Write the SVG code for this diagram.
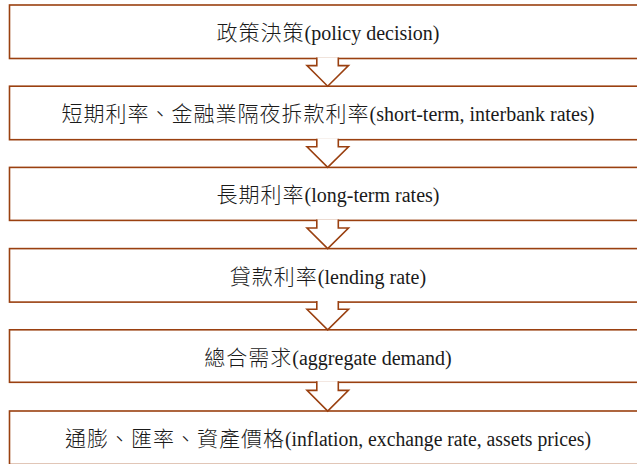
<svg xmlns="http://www.w3.org/2000/svg" width="637" height="464" viewBox="0 0 637 464">
<style>
.box{fill:#ffffff;stroke:#9a4010;stroke-width:1.6}
.arr{fill:#ffffff;stroke:#9a4010;stroke-width:1.6;stroke-linejoin:miter}
.lbl{font-family:"Liberation Serif","Times New Roman","Noto Sans CJK TC",serif;font-size:20px;fill:#1a1a1a;text-anchor:middle}
.cjk{font-family:"Noto Sans CJK TC","Noto Sans CJK SC",sans-serif;font-size:21px;letter-spacing:1px;font-weight:300}
</style>
<rect width="637" height="464" fill="#ffffff"/>
<g id="n1"><rect class="box" x="9.5" y="5" width="640" height="53.5"/><text class="lbl" x="328" y="40"><tspan class="cjk">政策決策</tspan>(policy decision)</text></g>
<g id="n2"><rect class="box" x="9.5" y="86.2" width="640" height="53.5"/><text class="lbl" x="328" y="121.2"><tspan class="cjk">短期利率、金融業隔夜拆款利率</tspan>(short-term, interbank rates)</text></g>
<g id="n3"><rect class="box" x="9.5" y="167.4" width="640" height="53"/><text class="lbl" x="328" y="202.4"><tspan class="cjk">長期利率</tspan>(long-term rates)</text></g>
<g id="n4"><rect class="box" x="9.5" y="248.6" width="640" height="53.5"/><text class="lbl" x="328" y="283.6"><tspan class="cjk">貸款利率</tspan>(lending rate)</text></g>
<g id="n5"><rect class="box" x="9.5" y="329.8" width="640" height="52.5"/><text class="lbl" x="328" y="364.8"><tspan class="cjk">總合需求</tspan>(aggregate demand)</text></g>
<g id="n6"><rect class="box" x="9.5" y="411" width="640" height="53.5"/><text class="lbl" x="328" y="446"><tspan class="cjk">通膨、匯率、資產價格</tspan><tspan textLength="306" lengthAdjust="spacingAndGlyphs">(inflation, exchange rate, assets prices)</tspan></text></g>
<g id="connectors">
<path class="arr" d="M316.8,57.5 V65.6 H307 L327.7,86.2 L348.5,65.6 H338.3 V57.5"/>
<path class="arr" d="M316.8,138.7 V146.8 H307 L327.7,167.4 L348.5,146.8 H338.3 V138.7"/>
<path class="arr" d="M316.8,219.4 V228 H307 L327.7,248.6 L348.5,228 H338.3 V219.4"/>
<path class="arr" d="M316.8,301.1 V309.2 H307 L327.7,329.8 L348.5,309.2 H338.3 V301.1"/>
<path class="arr" d="M316.8,381.3 V390.4 H307 L327.7,411 L348.5,390.4 H338.3 V381.3"/>
</g>
</svg>
